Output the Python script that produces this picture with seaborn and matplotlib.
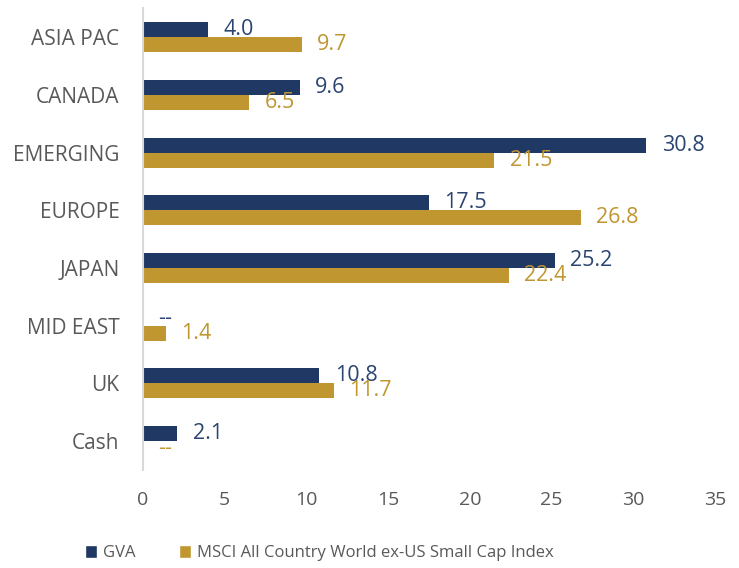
import pandas as pd
import matplotlib.pyplot as plt
from matplotlib.patches import Patch
import seaborn as sns

# Chart data
regions = ['ASIA PAC', 'CANADA', 'EMERGING', 'EUROPE', 'JAPAN', 'MID EAST', 'UK', 'Cash']
gva = [4.0, 9.6, 30.8, 17.5, 25.2, 0.0, 10.8, 2.1]
msci = [9.7, 6.5, 21.5, 26.8, 22.4, 1.4, 11.7, 0.0]
series = ['GVA', 'MSCI All Country World ex-US Small Cap Index']
bar_colors = ['#1F3864', '#BF9630']
text_colors = ['#2B4470', '#BF9630']
x_ticks = [0, 5, 10, 15, 20, 25, 30, 35]

sns.set_style("white")
plt.rcParams['font.family'] = ['Open Sans', 'DejaVu Sans']

df = pd.DataFrame({
    'region': regions * 2,
    'weight': gva + msci,
    'fund': [series[0]] * len(regions) + [series[1]] * len(regions),
})

fig = plt.figure(figsize=(7.39, 5.68), dpi=100)
ax = fig.add_axes([0.1935, 0.1725, 0.774, 0.813])

sns.barplot(data=df, x='weight', y='region', hue='fund', hue_order=series,
            palette=bar_colors, saturation=1, width=0.52, orient='h',
            linewidth=0, legend=False, ax=ax)

# Value labels, "--" where the weight is zero
for cont, vals, col in zip(ax.containers, [gva, msci], text_colors):
    labels = ['--' if v == 0 else f'{v:.1f}' for v in vals]
    ax.bar_label(cont, labels=labels, padding=11, color=col, fontsize=15.5)

ax.set_xlim(0, 35)
ax.set_xticks(x_ticks)
ax.set_xlabel('')
ax.set_ylabel('')
ax.tick_params(axis='x', length=0, pad=15, labelsize=14, labelcolor='#595959')
ax.tick_params(axis='y', length=0, pad=17, labelsize=15, labelcolor='#595959')
for side in ['top', 'right', 'bottom']:
    ax.spines[side].set_visible(False)
ax.spines['left'].set_color('#D9D9D9')
ax.spines['left'].set_linewidth(1.5)
ax.grid(False)

handles = [Patch(facecolor=c, label=s) for c, s in zip(bar_colors, series)]
fig.legend(handles=handles, loc='center', bbox_to_anchor=(0.432, 0.026), ncol=2,
           frameon=False, fontsize=12, handlelength=0.75, handleheight=0.75,
           handletextpad=0.35, columnspacing=2.6, labelcolor='#595959')

plt.savefig('out.png', dpi=100)
